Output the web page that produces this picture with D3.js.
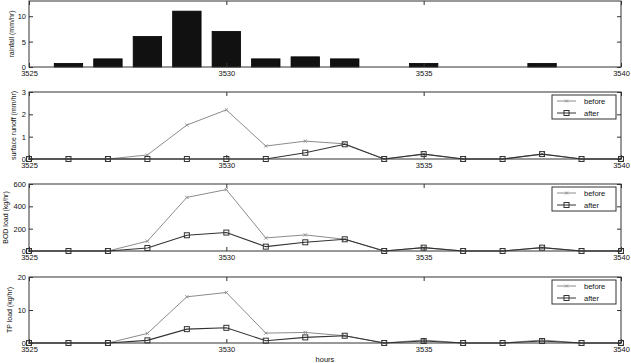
<!DOCTYPE html>
<html>
<head>
<meta charset="utf-8">
<script src="https://cdn.jsdelivr.net/npm/d3@7"></script>
<style>
  body { margin: 0; background: #fff; }
  text { font-family: "Liberation Sans", Arial, sans-serif; fill: #111; }
</style>
</head>
<body>
<script>
var width = 631;
var height = 363;

// hours on the x axis
var hours = [3525, 3526, 3527, 3528, 3529, 3530, 3531, 3532, 3533, 3534, 3535, 3536, 3537, 3538, 3539, 3540];
var xTicks = [3525, 3530, 3535, 3540];

// rainfall bars (mm/hr)
var rainfall = [0, 0.7, 1.6, 6.0, 11.0, 7.0, 1.6, 2.0, 1.6, 0, 0.7, 0, 0, 0.7, 0, 0];

// surface runoff (mm/hr)
var runoffBefore = [0, 0, 0, 0.18, 1.52, 2.2, 0.58, 0.8, 0.68, 0, 0.22, 0, 0, 0.22, 0, 0];
var runoffAfter  = [0, 0, 0, 0, 0, 0, 0, 0.28, 0.66, 0, 0.22, 0, 0, 0.22, 0, 0];

// BOD load (kg/hr)
var bodBefore = [0, 0, 0, 88, 480, 550, 117, 144, 105, 0, 30, 0, 0, 30, 0, 0];
var bodAfter  = [0, 0, 0, 27, 141, 165, 39, 78, 105, 0, 30, 0, 0, 30, 0, 0];

// TP load (kg/hr)
var tpBefore = [0, 0, 0, 2.9, 14.0, 15.3, 3.0, 3.2, 2.2, 0, 0.9, 0, 0, 0.9, 0, 0];
var tpAfter  = [0, 0, 0, 0.8, 4.2, 4.6, 0.7, 1.7, 2.2, 0, 0.6, 0, 0, 0.6, 0, 0];

var left = 29, right = 621;
var beforeColor = '#8c8c8c';
var afterColor = '#333';
var frameColor = '#333';

var svg = d3.select('body').append('svg')
  .attr('width', width)
  .attr('height', height);

var x = d3.scaleLinear().domain([3525, 3540]).range([left, right]);

var panels = [
  {top: 1,   bottom: 67,  max: 13,  ticks: [0, 5, 10],          label: 'rainfall (mm/hr)',       labelX: 11.5, bars: rainfall},
  {top: 92,  bottom: 159, max: 3,   ticks: [0, 1, 2, 3],        label: 'surface runoff (mm/hr)', labelX: 13.5, before: runoffBefore, after: runoffAfter},
  {top: 184, bottom: 251, max: 600, ticks: [0, 200, 400, 600],  label: 'BOD load (kg/hr)',       labelX: 5,    before: bodBefore, after: bodAfter},
  {top: 277, bottom: 343, max: 20,  ticks: [0, 10, 20],         label: 'TP load (kg/hr)',        labelX: 9.5,  before: tpBefore, after: tpAfter}
];

panels.forEach(function(p) {
  var y = d3.scaleLinear().domain([0, p.max]).range([p.bottom, p.top]);
  var g = svg.append('g');

  // bars
  if (p.bars) {
    var bw = (x(1) - x(0)) * 0.72;
    g.selectAll('.bar')
      .data(hours.map(function(h, i) { return {h: h, v: p.bars[i]}; }).filter(function(d) { return d.v > 0; }))
      .enter().append('rect')
      .attr('class', 'bar')
      .attr('x', function(d) { return x(d.h) - bw / 2; })
      .attr('width', bw)
      .attr('y', function(d) { return y(d.v); })
      .attr('height', function(d) { return p.bottom - y(d.v); })
      .attr('fill', '#111')
      .attr('stroke', '#000')
      .attr('stroke-width', 0.8);
  }

  // lines
  if (p.before) {
    var line = d3.line().x(function(d) { return x(d.h); }).y(function(d) { return y(d.v); });
    var bData = hours.map(function(h, i) { return {h: h, v: p.before[i]}; });
    var aData = hours.map(function(h, i) { return {h: h, v: p.after[i]}; });

    g.append('path').datum(bData)
      .attr('d', line).attr('fill', 'none')
      .attr('stroke', beforeColor).attr('stroke-width', 1);
    g.selectAll('.xm').data(bData).enter().append('path')
      .attr('class', 'xm')
      .attr('d', function(d) { var cx = x(d.h), cy = y(d.v), s = 1.6;
        return 'M' + (cx - s) + ',' + (cy - s) + 'L' + (cx + s) + ',' + (cy + s) +
               'M' + (cx - s) + ',' + (cy + s) + 'L' + (cx + s) + ',' + (cy - s); })
      .attr('stroke', beforeColor).attr('stroke-width', 0.9);

    g.append('path').datum(aData)
      .attr('d', line).attr('fill', 'none')
      .attr('stroke', afterColor).attr('stroke-width', 1.1);
    g.selectAll('.sq').data(aData).enter().append('rect')
      .attr('class', 'sq')
      .attr('x', function(d) { return x(d.h) - 2.5; })
      .attr('y', function(d) { return y(d.v) - 2.5; })
      .attr('width', 5).attr('height', 5)
      .attr('fill', 'none')
      .attr('stroke', afterColor).attr('stroke-width', 1);

    // legend
    var lx = 552, ly = p.top + 3;
    var lg = g.append('g');
    lg.append('rect').attr('x', lx).attr('y', ly).attr('width', 64).attr('height', 24)
      .attr('fill', '#fff').attr('stroke', frameColor).attr('stroke-width', 1);
    lg.append('line').attr('x1', lx + 5).attr('x2', lx + 24).attr('y1', ly + 6).attr('y2', ly + 6)
      .attr('stroke', beforeColor);
    lg.append('path')
      .attr('d', 'M' + (lx + 13) + ',' + (ly + 4.5) + 'L' + (lx + 16) + ',' + (ly + 7.5) +
                 'M' + (lx + 13) + ',' + (ly + 7.5) + 'L' + (lx + 16) + ',' + (ly + 4.5))
      .attr('stroke', beforeColor).attr('stroke-width', 0.9);
    lg.append('text').attr('x', lx + 32).attr('y', ly + 8.5).attr('font-size', 7.5).text('before');
    lg.append('line').attr('x1', lx + 5).attr('x2', lx + 24).attr('y1', ly + 18).attr('y2', ly + 18)
      .attr('stroke', afterColor);
    lg.append('rect').attr('x', lx + 12).attr('y', ly + 15.5).attr('width', 5).attr('height', 5)
      .attr('fill', 'none').attr('stroke', afterColor);
    lg.append('text').attr('x', lx + 32).attr('y', ly + 20.5).attr('font-size', 7.5).text('after');
  }

  // frame
  g.append('rect')
    .attr('x', left).attr('y', p.top)
    .attr('width', right - left).attr('height', p.bottom - p.top)
    .attr('fill', 'none').attr('stroke', frameColor).attr('stroke-width', 1);

  // x axis (bottom, ticks pointing in) and top mirror ticks
  var xb = d3.axisBottom(x).tickValues(xTicks).tickSize(-4).tickPadding(3.5).tickFormat(d3.format('d'));
  var gx = g.append('g').attr('transform', 'translate(0,' + p.bottom + ')').call(xb);
  var xt = d3.axisTop(x).tickValues(xTicks).tickSize(-4).tickFormat('');
  var gxt = g.append('g').attr('transform', 'translate(0,' + p.top + ')').call(xt);

  // y axis (left, ticks in) and right mirror ticks
  var yl = d3.axisLeft(y).tickValues(p.ticks).tickSize(-4).tickPadding(3).tickFormat(d3.format('~g'));
  var gy = g.append('g').attr('transform', 'translate(' + left + ',0)').call(yl);
  var yr = d3.axisRight(y).tickValues(p.ticks).tickSize(-4).tickFormat('');
  var gyr = g.append('g').attr('transform', 'translate(' + right + ',0)').call(yr);

  [gx, gxt, gy, gyr].forEach(function(a) {
    a.select('.domain').remove();
    a.selectAll('line').attr('stroke', frameColor);
    a.selectAll('text').attr('font-size', 7.5)
      .attr('font-family', '"Liberation Sans", Arial, sans-serif').attr('fill', '#111');
  });

  // y label
  g.append('text')
    .attr('transform', 'translate(' + p.labelX + ',' + ((p.top + p.bottom) / 2) + ') rotate(-90)')
    .attr('text-anchor', 'middle')
    .attr('dominant-baseline', 'central')
    .attr('font-size', 7)
    .text(p.label);
});

svg.append('text')
  .attr('x', (left + right) / 2)
  .attr('y', 362)
  .attr('text-anchor', 'middle')
  .attr('font-size', 7.5)
  .text('hours');
</script>
</body>
</html>
